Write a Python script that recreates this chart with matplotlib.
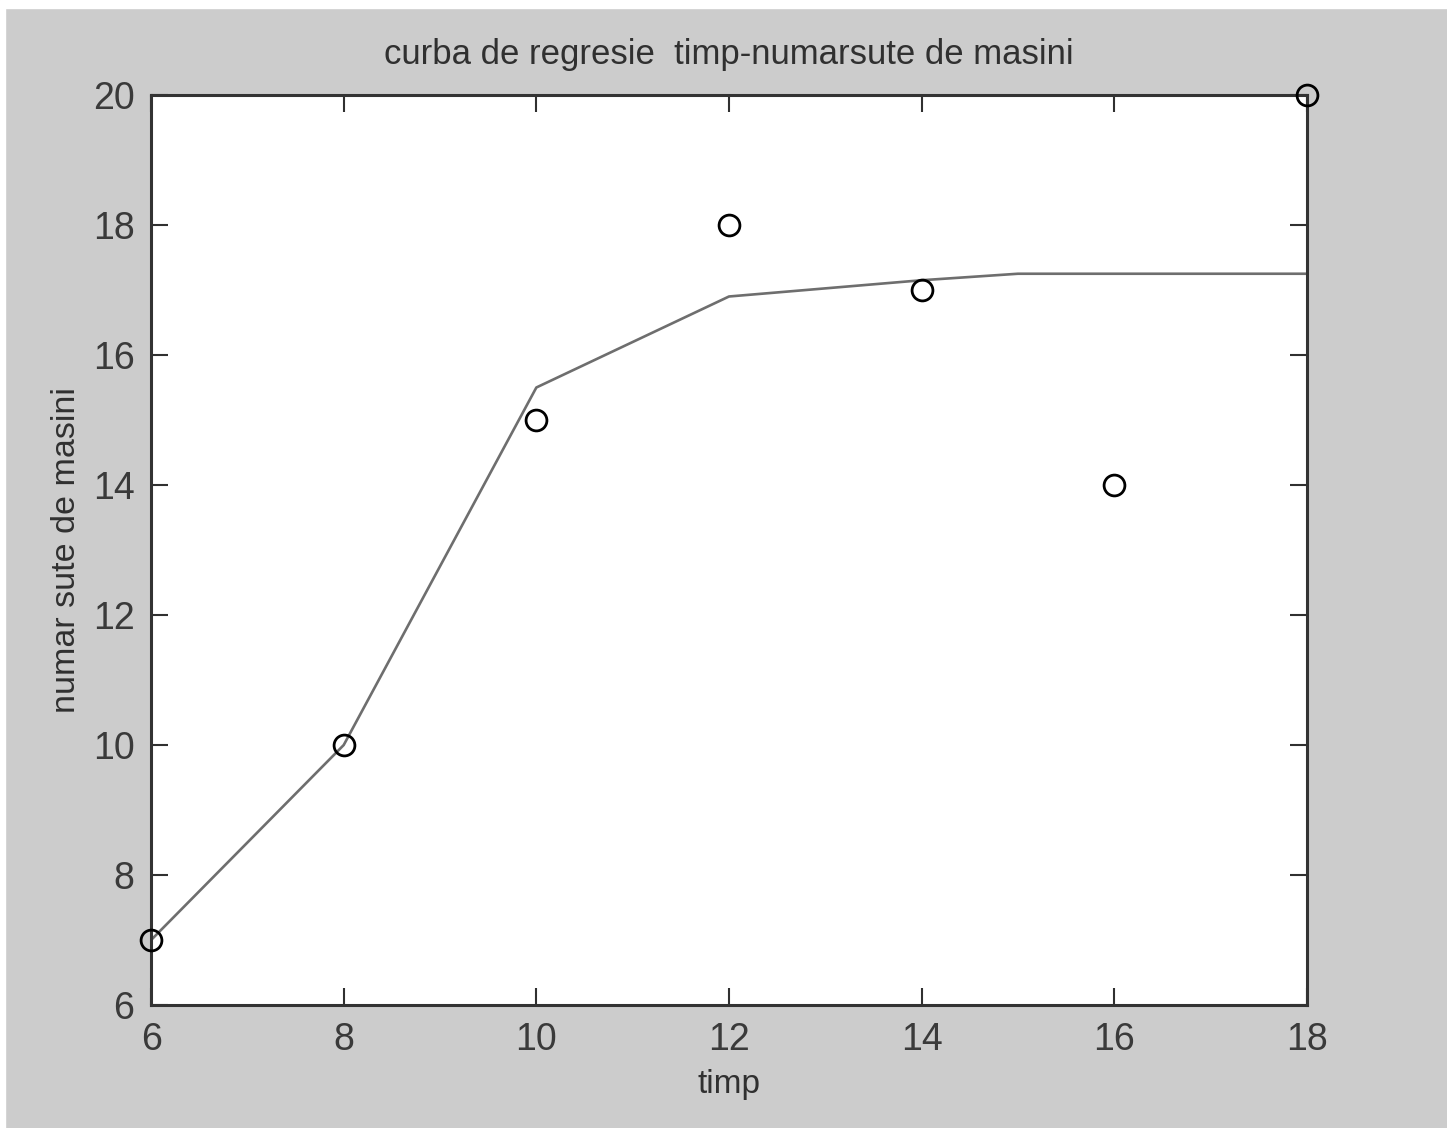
import matplotlib
matplotlib.use("Agg")
import matplotlib.pyplot as plt
from matplotlib.patches import Rectangle

plt.rcParams['font.family'] = ['Liberation Sans', 'DejaVu Sans']

# measured points
timp = [6, 8, 10, 12, 14, 16, 18]
masini = [7, 10, 15, 18, 17, 14, 20]

# regression curve
curba_x = [6, 8, 10, 12, 14, 15, 18]
curba_y = [7, 10, 15.5, 16.9, 17.15, 17.25, 17.25]

xticks = [6, 8, 10, 12, 14, 16, 18]
yticks = [6, 8, 10, 12, 14, 16, 18, 20]

fig = plt.figure(figsize=(14.47, 11.28), dpi=100, facecolor='#cccccc')
# white strips at the top and left edges of the screenshot
fig.patches.append(Rectangle((0, 0.9925), 1, 0.0075, transform=fig.transFigure, color='white', zorder=-1))
fig.patches.append(Rectangle((0, 0), 0.0035, 1, transform=fig.transFigure, color='white', zorder=-1))

ax = fig.add_axes([0.1044, 0.109, 0.7988, 0.8068])
ax.set_facecolor('white')

ax.plot(curba_x, curba_y, color='#6e6e6e', lw=1.9, zorder=2)
ax.plot(timp, masini, 'o', ms=15, mfc='none', mec='black', mew=2, zorder=3, clip_on=False)

ax.set_xlim(6, 18)
ax.set_ylim(6, 20)
ax.set_xticks(xticks)
ax.set_yticks(yticks)
ax.tick_params(direction='in', length=12, width=1.5, colors='#303030',
               labelsize=27, top=True, right=True, pad=12)
for lbl in ax.get_xticklabels() + ax.get_yticklabels():
    lbl.set_color('#3a3a3a')
for s in ax.spines.values():
    s.set_linewidth(2.2)
    s.set_color('#333333')

ax.set_title('curba de regresie  timp-numarsute de masini', fontsize=25, color='#303030', pad=22)
ax.set_xlabel('timp', fontsize=24, color='#303030', labelpad=8)
ax.set_ylabel('numar sute de masini', fontsize=24.5, color='#303030', labelpad=8)

fig.savefig('out.png', dpi=100, facecolor=fig.get_facecolor())
